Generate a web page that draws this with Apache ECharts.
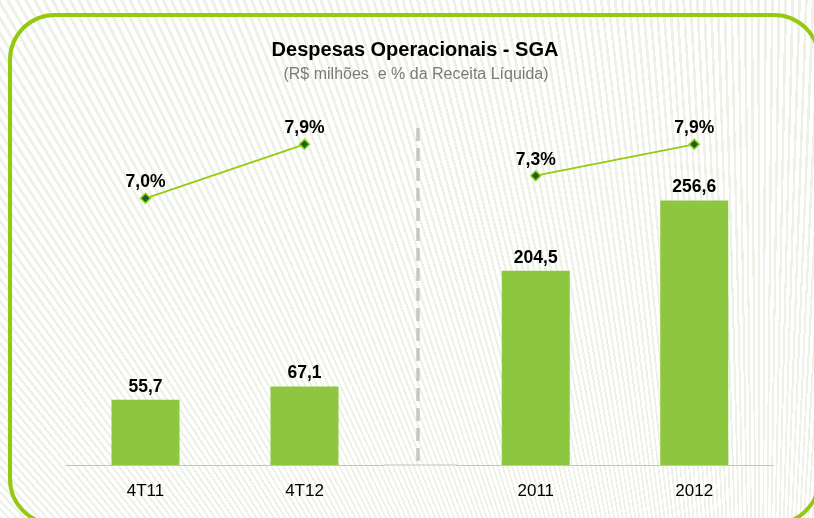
<!DOCTYPE html>
<html>
<head>
<meta charset="utf-8">
<script src="https://cdn.jsdelivr.net/npm/echarts@6/dist/echarts.min.js"></script>
<style>
html,body{margin:0;padding:0;width:814px;height:518px;overflow:hidden;}
body{background:#ffffff repeating-conic-gradient(from 0deg at 760px 1300px, #ffffff 0deg 0.18deg, #edf1e6 0.18deg 0.3deg);}
#chart{width:814px;height:518px;}
</style>
</head>
<body>
<div id="chart"></div>
<script>
const titleText = 'Despesas Operacionais - SGA';
const subtitleText = '(R$ milhões  e % da Receita Líquida)';
const categoriesLeft = ['4T11', '4T12'];
const categoriesRight = ['2011', '2012'];
const sgaLeft = [55.7, 67.1];
const sgaRight = [204.5, 256.6];
const pctLeft = [7.0, 7.9];
const pctRight = [7.3, 7.9];

const font = 'Liberation Sans, Arial, sans-serif';
const fmtNum = v => v.toFixed(1).replace('.', ',');
const fmtPct = v => v.toFixed(1).replace('.', ',') + '%';

const chart = echarts.init(document.getElementById('chart'), null, {renderer: 'canvas'});

const xAxisBase = (gridIndex, data) => ({
  type: 'category', gridIndex, data,
  axisLine: {show: true, lineStyle: {color: '#c4c4c4', width: 1.2}},
  axisTick: {show: false},
  axisLabel: {color: '#000', fontSize: 17, fontFamily: font, margin: 18}
});
const yHidden = (gridIndex, min, max) => ({
  type: 'value', gridIndex, min, max,
  show: false, splitLine: {show: false}
});
const barSeries = (idx, data) => ({
  type: 'bar', xAxisIndex: idx, yAxisIndex: idx * 2, data,
  barWidth: 68, itemStyle: {color: '#8dc63f'},
  label: {show: true, position: 'top', distance: 4, color: '#000', fontWeight: 'bold',
          fontSize: 17.5, fontFamily: font, formatter: p => fmtNum(p.value)},
  z: 2
});
const lineSeries = (idx, data) => ({
  type: 'line', xAxisIndex: idx, yAxisIndex: idx * 2 + 1, data,
  symbol: 'diamond', symbolSize: 10,
  lineStyle: {color: '#97cb12', width: 1.8},
  itemStyle: {color: '#16622c', borderColor: '#9bd20f', borderWidth: 1.5},
  label: {show: true, position: 'top', distance: 1, color: '#000', fontWeight: 'bold',
          fontSize: 17.5, fontFamily: font, formatter: p => fmtPct(p.value)},
  z: 5
});

chart.setOption({
  animation: false,
  backgroundColor: 'transparent',
  grid: [
    {left: 66, width: 318, top: 114, bottom: 53},
    {left: 456.5, width: 317, top: 114, bottom: 53}
  ],
  xAxis: [xAxisBase(0, categoriesLeft), xAxisBase(1, categoriesRight)],
  yAxis: [
    yHidden(0, 0, 300), yHidden(0, 2.555, 8.405),
    yHidden(1, 60, 321), yHidden(1, 1.772, 8.479)
  ],
  series: [
    barSeries(0, sgaLeft), lineSeries(0, pctLeft),
    barSeries(1, sgaRight), lineSeries(1, pctRight)
  ],
  graphic: [
    {type: 'rect', shape: {x: 10, y: 15, width: 809, height: 509, r: 45},
     style: {fill: 'none', stroke: '#96c80f', lineWidth: 4}, z: 0},
    {type: 'line', shape: {x1: 384, y1: 465, x2: 457, y2: 465},
     style: {stroke: '#c4c4c4', lineWidth: 1.2}, z: 1},
    {type: 'line', shape: {x1: 418, y1: 128, x2: 418, y2: 465},
     style: {stroke: '#c6c6c6', lineWidth: 3.5, lineDash: [13, 7]}, z: 1},
    {type: 'text', x: 415, y: 50,
     style: {text: titleText, fill: '#000', font: 'bold 20px ' + font, textAlign: 'center', textVerticalAlign: 'middle'}},
    {type: 'text', x: 416, y: 75,
     style: {text: subtitleText, fill: '#7a7a7a', font: '16px ' + font, textAlign: 'center', textVerticalAlign: 'middle'}}
  ]
});
</script>
</body>
</html>
